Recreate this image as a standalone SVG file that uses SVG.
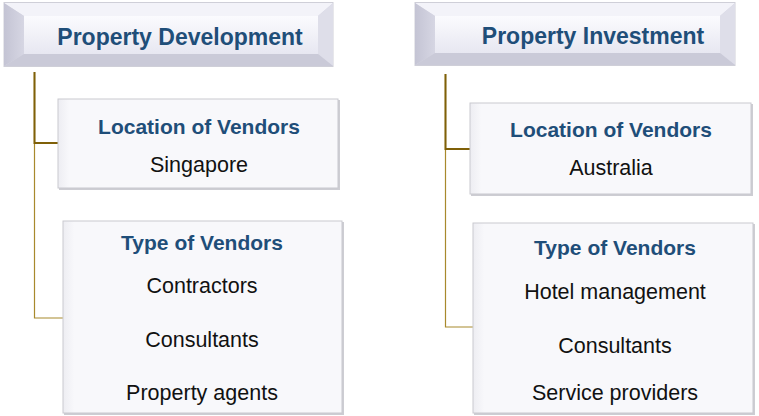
<svg xmlns="http://www.w3.org/2000/svg" width="759" height="416" viewBox="0 0 759 416">
  <defs>
    <linearGradient id="face" x1="0" y1="0" x2="0" y2="1">
      <stop offset="0" stop-color="#FBFBFE"/>
      <stop offset="1" stop-color="#E7E7F1"/>
    </linearGradient>
    <linearGradient id="bevelL" x1="0" y1="0" x2="1" y2="0">
      <stop offset="0" stop-color="#C4C4D4"/>
      <stop offset="1" stop-color="#D6D6E3"/>
    </linearGradient>
    <linearGradient id="card" x1="0" y1="0" x2="1" y2="0">
      <stop offset="0" stop-color="#EDEDF2"/>
      <stop offset="0.04" stop-color="#F8F8FB"/>
      <stop offset="1" stop-color="#F8F8FB"/>
    </linearGradient>
  </defs>
  <style>
    .head { font-family: "Liberation Sans", Arial, sans-serif; font-weight: bold; font-size: 23px; fill: #1F4E79; text-anchor: middle; }
    .sub { font-family: "Liberation Sans", Arial, sans-serif; font-weight: bold; font-size: 21px; fill: #1F4E79; text-anchor: middle; }
    .item { font-family: "Liberation Sans", Arial, sans-serif; font-size: 21.5px; fill: #111111; text-anchor: middle; }
    .outer { fill: #D8D8E4; stroke: #CFCFD8; stroke-width: 1; }
    .top { fill: #F3F3F9; }
    .left { fill: url(#bevelL); }
    .right { fill: #DEDEE9; }
    .bottom { fill: #CACAD8; }
    .face { fill: url(#face); }
    .shadow { fill: #CDCDD3; }
    .cardbox { fill: url(#card); stroke: #C9C9CF; stroke-width: 1; }
    .link-main { fill: none; stroke: #7F6008; stroke-width: 2; }
    .link-sub { fill: none; stroke: #A8892C; stroke-width: 1.2; }
  </style>

  <!-- connectors -->
  <g id="connectors">
    <path class="link-sub" d="M34.5,72 V318 H63"/>
    <path class="link-main" d="M34.5,72 V143 H58"/>
    <path class="link-sub" d="M445.5,74 V327 H473"/>
    <path class="link-main" d="M445.5,74 V149 H470"/>
  </g>

  <!-- bevelled header: Property Development -->
  <g id="property-development">
    <rect class="outer" x="4" y="2.5" width="329" height="64"/>
    <polygon class="top" points="4,3 333,3 318,16 24,16"/>
    <polygon class="left" points="4,3 24,16 24,54 4,66"/>
    <polygon class="right" points="333,3 333,66 318,54 318,16"/>
    <polygon class="bottom" points="4,66 24,54 318,54 333,66"/>
    <rect class="face" x="24" y="16" width="294" height="38"/>
    <text class="head" x="180" y="45">Property Development</text>
  </g>

  <!-- bevelled header: Property Investment -->
  <g id="property-investment">
    <rect class="outer" x="415" y="2.5" width="320" height="63"/>
    <polygon class="top" points="415,3 735,3 720,16 435,16"/>
    <polygon class="left" points="415,3 435,16 435,53 415,65"/>
    <polygon class="right" points="735,3 735,65 720,53 720,16"/>
    <polygon class="bottom" points="415,65 435,53 720,53 735,65"/>
    <rect class="face" x="435" y="16" width="285" height="37"/>
    <text class="head" x="593" y="44">Property Investment</text>
  </g>

  <!-- left column cards -->
  <g id="pd-location">
    <rect class="shadow" x="59" y="100" width="281" height="90"/>
    <rect class="cardbox" x="58" y="99" width="280" height="89"/>
    <text class="sub" x="199" y="134">Location of Vendors</text>
    <text class="item" x="199" y="172">Singapore</text>
  </g>

  <g id="pd-type">
    <rect class="shadow" x="64" y="222" width="280" height="193"/>
    <rect class="cardbox" x="63" y="221" width="279" height="192"/>
    <text class="sub" x="202" y="250">Type of Vendors</text>
    <text class="item" x="202" y="293">Contractors</text>
    <text class="item" x="202" y="347">Consultants</text>
    <text class="item" x="202" y="400">Property agents</text>
  </g>

  <!-- right column cards -->
  <g id="pi-location">
    <rect class="shadow" x="471" y="104" width="282" height="92"/>
    <rect class="cardbox" x="470" y="103" width="281" height="91"/>
    <text class="sub" x="611" y="137">Location of Vendors</text>
    <text class="item" x="611" y="175">Australia</text>
  </g>

  <g id="pi-type">
    <rect class="shadow" x="474" y="224" width="281" height="191"/>
    <rect class="cardbox" x="473" y="223" width="280" height="190"/>
    <text class="sub" x="615" y="255">Type of Vendors</text>
    <text class="item" x="615" y="299">Hotel management</text>
    <text class="item" x="615" y="353">Consultants</text>
    <text class="item" x="615" y="400">Service providers</text>
  </g>
</svg>
